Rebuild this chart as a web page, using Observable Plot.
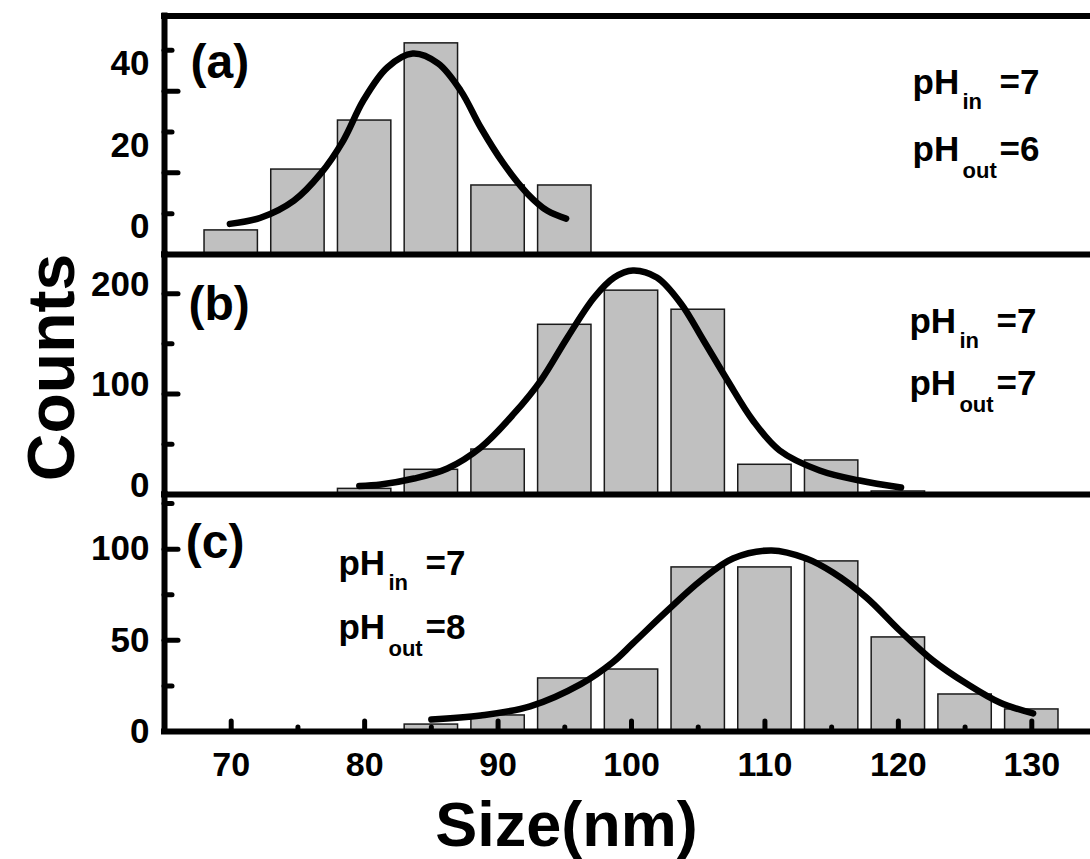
<!DOCTYPE html>
<html><head><meta charset="utf-8">
<script src="https://cdn.jsdelivr.net/npm/d3@7"></script>
<script src="https://cdn.jsdelivr.net/npm/@observablehq/plot@0.6"></script>
<style>
html,body{margin:0;padding:0;background:#fff;}
#chart{position:relative;width:1090px;height:859px;overflow:hidden;background:#fff;}
#chart svg{position:absolute;left:0;}
</style></head><body><div id="chart"></div>
<script>
// ---- data ----
const sizesA = [70, 75, 80, 85, 90, 95];
const countsA = [-4.1, 10.8, 22.8, 41.7, 6.9, 6.9];
const curveAx = [69.9, 72.2, 74.7, 76.7, 78.4, 79.9, 81.7, 83.6, 85.5, 87.2, 88.7, 90.4, 92.2, 93.7, 95.1];
const curveAy = [-2.5, -1.0, 3.2, 9.8, 17.9, 27.7, 35.8, 39.2, 36.8, 30.1, 21.1, 12.3, 4.9, 0.7, -1.2];

const sizesB = [80, 85, 90, 95, 100, 105, 110, 115, 120];
const countsB = [5.6, 24.6, 44.8, 169, 203, 184, 29.6, 33.9, 3];
const curveBx = [79.6, 81.2, 83.7, 86.2, 88.7, 91.2, 93.2, 95.2, 97.2, 98.7, 100.1, 101.9, 103.7, 105.4, 107.2, 109.1, 111.1, 114.1, 117.1, 120.2];
const curveBy = [8.5, 10.0, 15.9, 25.9, 46.8, 80.7, 113.5, 156.4, 196.2, 216.1, 223.1, 216.1, 190.2, 153.4, 113.5, 73.7, 43.8, 23.9, 13.9, 7.0];

const sizesC = [85, 90, 95, 100, 105, 110, 115, 120, 125, 130];
const countsC = [3.8, 8.8, 29.1, 34, 90, 90, 93.3, 51.6, 20.3, 12.1];
const curveCx = [85, 88.7, 92.4, 96.2, 98.6, 100.1, 102.7, 105.2, 107.6, 110.5, 113.1, 115.1, 117.6, 120.1, 122.6, 125.1, 127.6, 130.1];
const curveCy = [6.6, 8.8, 13.8, 26, 38, 48.3, 66.4, 82.8, 94.9, 99.3, 94.9, 87.2, 73.5, 55.4, 38.9, 26.3, 15.9, 9.9];

const panelTags = ["(a)", "(b)", "(c)"];
const phIn = [7, 7, 7];
const phOut = [6, 7, 8];

const xMajor = [70, 80, 90, 100, 110, 120, 130];
const xMinor = [75, 85, 95, 105, 115, 125];
const yLabelsA = [0, 20, 40], yShortA = [0, 20, 40], yLongA = [10, 30];
const yLabelsB = [0, 100, 200], yLongB = [100, 200], yShortB = [50, 150];
const yLabelsC = [0, 50, 100], yLongC = [50, 100], yShortC = [25, 75, 125];

// ---- layout ----
const FONT = '"Liberation Sans", Arial, Helvetica, sans-serif';
const W = 1090, ML = 164;
const xDomain = [65, 134.4];
const chart = document.getElementById("chart");

function panel(cfg) {
  const bars = cfg.sizes.map((s, i) => ({s, c: cfg.counts[i]}));
  const curve = cfg.cx.map((x, i) => ({x, y: cfg.cy[i]}));
  const notes = [
    {x: cfg.note.x, y: cfg.note.y1, main: "pH", sub: "in", val: "=" + cfg.pin, sdy: 15},
    {x: cfg.note.x, y: cfg.note.y2, main: "pH", sub: "out", val: "=" + cfg.pout, sdy: 17}
  ];
  const marks = [
    Plot.rect(bars, {x1: d => d.s - 2, x2: d => d.s + 2, y1: cfg.yDomain[0], y2: "c",
      fill: "#c0c0c0", stroke: "#1a1a1a", strokeWidth: 1.5}),
    Plot.line(curve, {x: "x", y: "y", curve: "catmull-rom", stroke: "#000",
      strokeWidth: 6.5, strokeLinecap: "round", strokeLinejoin: "round"}),
    Plot.axisY({ticks: cfg.longT, tickSize: -14, fill: "none", label: null, strokeWidth: 5, strokeLinecap: "round"}),
    Plot.axisY({ticks: cfg.shortT, tickSize: -8, fill: "none", label: null, strokeWidth: 5, strokeLinecap: "round"}),
    Plot.axisY({ticks: cfg.yLabels, tickSize: 0, tickPadding: 15, fontSize: 35, dy: cfg.labelDy, label: null, fill: "#000"}),
    Plot.text([cfg.tag], {x: cfg.tagPos.x, y: cfg.tagPos.y, textAnchor: "start", lineAnchor: "bottom", fontSize: 48, fill: "#000"}),
    Plot.text(notes, {x: "x", y: "y", text: "main", textAnchor: "start", lineAnchor: "bottom", fontSize: 35, fill: "#000"}),
    Plot.text(notes, {x: "x", y: "y", text: "val", dx: 87, textAnchor: "start", lineAnchor: "bottom", fontSize: 35, fill: "#000"}),
    ...notes.map(n => Plot.text([n], {x: "x", y: "y", text: "sub", dx: 50, dy: n.sdy, textAnchor: "start", lineAnchor: "bottom", fontSize: 22, fill: "#000"})),
    Plot.ruleX([xDomain[0]], {stroke: "#000", strokeWidth: 6, strokeLinecap: "square"}),
    Plot.ruleY([cfg.yDomain[1]], {stroke: "#000", strokeWidth: 6, strokeLinecap: "square"}),
    ...(cfg.extra || [])
  ];
  const svg = Plot.plot({
    width: W, height: cfg.height,
    marginLeft: ML, marginRight: 0, marginTop: cfg.mt, marginBottom: cfg.mb,
    x: {domain: xDomain, axis: null},
    y: {domain: cfg.yDomain, axis: null},
    style: {fontFamily: FONT, fontWeight: "bold", background: "none", overflow: "visible", color: "#000"},
    marks
  });
  svg.style.top = cfg.top + "px";
  chart.appendChild(svg);
}

panel({sizes: sizesA, counts: countsA, cx: curveAx, cy: curveAy, yDomain: [-10, 48.4],
  longT: yLongA, shortT: yShortA, yLabels: yLabelsA, labelDy: 13.5,
  tag: panelTags[0], tagPos: {x: 66.95, y: 33.1},
  note: {x: 121.06, y1: 29.4, y2: 12.8}, pin: phIn[0], pout: phOut[0],
  top: 0, height: 254, mt: 15.5, mb: 0});

panel({sizes: sizesB, counts: countsB, cx: curveBx, cy: curveBy, yDomain: [0, 239],
  longT: yLongB, shortT: yShortB, yLabels: yLabelsB, labelDy: -9,
  tag: panelTags[1], tagPos: {x: 66.8, y: 173.3},
  note: {x: 120.83, y1: 160.4, y2: 98.6}, pin: phIn[1], pout: phOut[1],
  top: 254, height: 240, mt: 0, mb: 0,
  extra: [Plot.text(["Counts"], {frameAnchor: "left", rotate: -90, dx: -91, dy: -7, fontSize: 66,
    lineAnchor: "bottom", textAnchor: "middle", fill: "#000"})]});

panel({sizes: sizesC, counts: countsC, cx: curveCx, cy: curveCy, yDomain: [0, 130],
  longT: yLongC, shortT: yShortC, yLabels: yLabelsC, labelDy: 0,
  tag: panelTags[2], tagPos: {x: 66.6, y: 94.9},
  note: {x: 78.04, y1: 85.6, y2: 51.0}, pin: phIn[2], pout: phOut[2],
  top: 494, height: 365, mt: 0, mb: 128,
  extra: [
    Plot.ruleY([0], {stroke: "#000", strokeWidth: 6, strokeLinecap: "square"}),
    Plot.axisX({ticks: xMajor, tickSize: -10, fill: "none", label: null, strokeWidth: 5, strokeLinecap: "round"}),
    Plot.axisX({ticks: xMinor, tickSize: -4, fill: "none", label: null, strokeWidth: 5, strokeLinecap: "round"}),
    Plot.axisX({ticks: xMajor, tickSize: 0, tickPadding: 20, fontSize: 34, label: null, fill: "#000"}),
    Plot.text(["Size(nm)"], {frameAnchor: "bottom", dx: -61, dy: 114, fontSize: 63,
      lineAnchor: "bottom", textAnchor: "middle", fill: "#000"})
  ]});
</script>
</body></html>
